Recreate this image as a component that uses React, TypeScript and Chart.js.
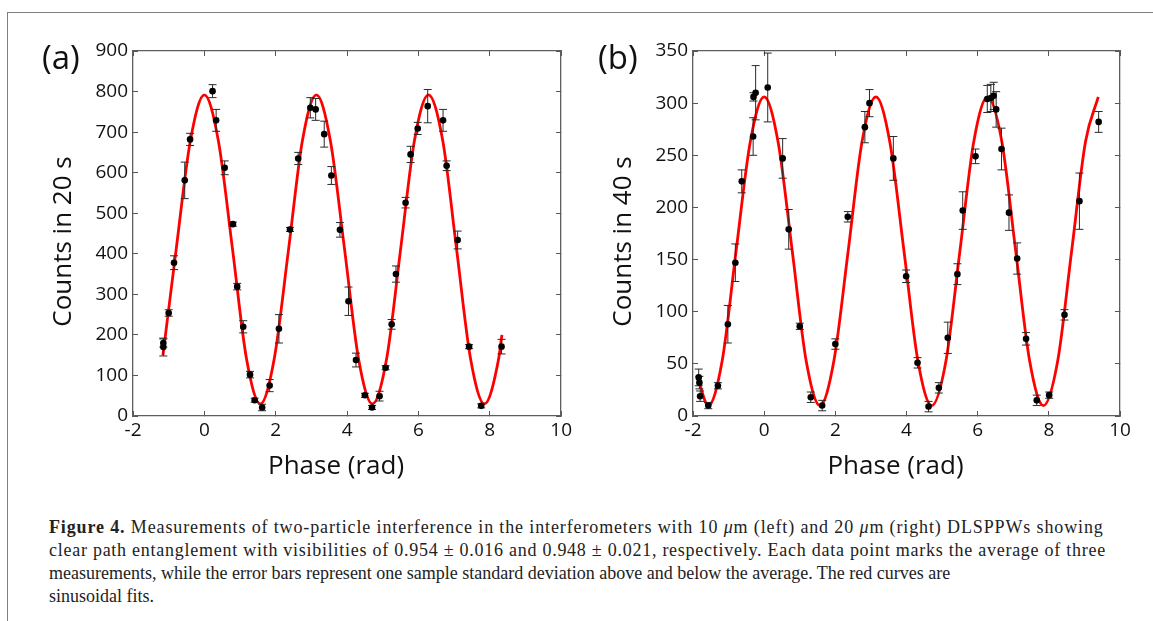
import React, { useEffect, useRef } from 'react';
import { Chart, registerables } from 'chart.js';

Chart.register(...registerables);

// ---------- Panel (a): 10 um DLSPPW, counts in 20 s ----------
const phaseA = [-1.15, -1.15, -1.0, -0.85, -0.55, -0.40, 0.23, 0.33, 0.57, 0.80, 0.92, 1.09, 1.28, 1.41, 1.62, 1.83, 2.09, 2.40, 2.63, 2.97, 3.12, 3.36, 3.56, 3.80, 4.04, 4.25, 4.50, 4.70, 4.91, 5.08, 5.25, 5.37, 5.64, 5.78, 5.98, 6.26, 6.69, 6.79, 7.10, 7.42, 7.76, 8.33];
const countsA = [170, 180, 254, 378, 581, 682, 801, 729, 612, 473, 319, 220, 102, 39, 21, 75, 215, 460, 635, 760, 756, 695, 593, 459, 283, 138, 51, 21, 49, 119, 226, 350, 526, 645, 709, 764, 729, 617, 434, 171, 25, 171];
const errA = [22, 10, 8, 17, 45, 15, 16, 27, 17, 5, 8, 15, 8, 5, 8, 15, 35, 5, 15, 25, 27, 32, 22, 18, 35, 17, 5, 5, 12, 5, 12, 20, 13, 20, 15, 41, 27, 12, 22, 5, 5, 18];
const fitPhaseA = [-1.16, -0.79, -0.39, 0, 0.39, 0.79, 1.18, 1.57, 1.96, 2.36, 2.75, 3.14, 3.53, 3.93, 4.32, 4.71, 5.11, 5.50, 5.89, 6.28, 6.68, 7.07, 7.46, 7.85, 8.25, 8.34];
const fitCountsA = [150, 411, 680, 792, 680, 411, 142, 30, 142, 411, 680, 792, 680, 411, 142, 30, 142, 411, 680, 792, 680, 411, 142, 30, 142, 200];

// ---------- Panel (b): 20 um DLSPPW, counts in 40 s ----------
const phaseB = [-1.84, -1.82, -1.80, -1.57, -1.30, -1.02, -0.81, -0.63, -0.31, -0.30, -0.24, 0.10, 0.52, 0.69, 1.00, 1.31, 1.63, 2.00, 2.35, 2.83, 2.96, 3.63, 3.99, 4.31, 4.62, 4.91, 5.16, 5.43, 5.58, 5.94, 6.27, 6.37, 6.45, 6.52, 6.67, 6.88, 7.11, 7.36, 7.66, 8.01, 8.44, 8.86, 9.40];
const countsB = [37, 32, 19, 10, 29, 88, 147, 225, 268, 306, 310, 315, 247, 179, 86, 18, 10, 69, 191, 277, 300, 247, 134, 51, 9, 27, 75, 136, 197, 249, 304, 305, 307, 294, 256, 195, 151, 74, 15, 20, 97, 206, 282];
const errB = [8, 6, 5, 3, 3, 18, 18, 11, 18, 4, 26, 33, 19, 19, 3, 5, 5, 5, 5, 15, 13, 21, 6, 5, 5, 5, 15, 10, 18, 7, 13, 13, 13, 17, 20, 17, 15, 6, 5, 3, 5, 27, 10];
const fitPhaseB = [-1.84, -1.57, -1.18, -0.79, -0.39, 0, 0.39, 0.79, 1.18, 1.57, 1.96, 2.36, 2.75, 3.14, 3.53, 3.93, 4.32, 4.71, 5.11, 5.50, 5.89, 6.28, 6.68, 7.07, 7.46, 7.85, 8.25, 8.64, 9.03, 9.39];
const fitCountsB = [33, 10, 53, 158, 263, 306, 263, 158, 53, 10, 53, 158, 263, 306, 263, 158, 53, 10, 53, 158, 263, 306, 263, 158, 53, 10, 53, 158, 263, 306];

// ---------- Axes ----------
const xMin = -2;
const xMax = 10;
const xStep = 2;
const yMaxA = 900;
const yStepA = 100;
const yMaxB = 350;
const yStepB = 50;

const panelLabels = ['(a)', '(b)'];
const yTitles = ['Counts in 20 s', 'Counts in 40 s'];
const xTitle = 'Phase (rad)';

const TICK_FONT = { family: "'Open Sans', sans-serif", size: 19 };
const TITLE_FONT = "26px 'Open Sans', sans-serif";
const LABEL_FONT = "33px 'Open Sans', sans-serif";
const FRAME = '#5e5e5e';
const TEXT = '#111';

const errorBarPlugin = {
  id: 'errorBars',
  afterDatasetDraw(chart: any, args: any, opts: any) {
    if (args.index !== 1 || !opts || !opts.xs) return;
    const { ctx, scales } = chart;
    const xs = scales.x;
    const ys = scales.y;
    ctx.save();
    ctx.strokeStyle = '#2a2a2a';
    ctx.lineWidth = 1;
    for (let i = 0; i < opts.xs.length; i++) {
      const px = xs.getPixelForValue(opts.xs[i]);
      const top = ys.getPixelForValue(opts.ys[i] + opts.err[i]);
      const bot = ys.getPixelForValue(opts.ys[i] - opts.err[i]);
      ctx.beginPath();
      ctx.moveTo(px, top);
      ctx.lineTo(px, bot);
      ctx.moveTo(px - 4, top);
      ctx.lineTo(px + 4, top);
      ctx.moveTo(px - 4, bot);
      ctx.lineTo(px + 4, bot);
      ctx.stroke();
    }
    ctx.restore();
  },
};

const textPlugin = {
  id: 'panelText',
  afterDraw(chart: any, _args: any, opts: any) {
    if (!opts || !opts.label) return;
    const { ctx, chartArea } = chart;
    const cx = (chartArea.left + chartArea.right) / 2;
    const cy = (chartArea.top + chartArea.bottom) / 2;
    ctx.save();
    ctx.fillStyle = TEXT;
    ctx.textBaseline = 'middle';
    ctx.textAlign = 'center';
    ctx.font = TITLE_FONT;
    ctx.fillText(opts.xTitle, cx - 11, chartArea.bottom + 51);
    ctx.save();
    ctx.translate(chartArea.left - 69, cy + 8);
    ctx.rotate(-Math.PI / 2);
    ctx.fillText(opts.yTitle, 0, 0);
    ctx.restore();
    ctx.font = LABEL_FONT;
    ctx.textAlign = 'left';
    ctx.fillText(opts.label, chartArea.left - opts.labelDx, chartArea.top + 9);
    ctx.restore();
  },
};

function axisGrid() {
  return {
    display: true,
    drawOnChartArea: false,
    drawTicks: true,
    tickLength: -5,
    color: '#555',
    lineWidth: 1,
  };
}

function makeConfig(
  xsArr: number[], ysArr: number[], errArr: number[],
  fitX: number[], fitY: number[],
  yMax: number, yStep: number,
  label: string, yTitle: string, labelDx: number, rightPad: number,
) {
  const points = xsArr.map((x, i) => ({ x, y: ysArr[i] }));
  const fit = fitX.map((x, i) => ({ x, y: fitY[i] }));
  const border = { display: true, color: FRAME, width: 1.3 };
  return {
    type: 'scatter',
    data: {
      datasets: [
        {
          label: 'data',
          data: points,
          pointRadius: 3.3,
          pointHoverRadius: 3.3,
          pointBackgroundColor: '#000',
          pointBorderWidth: 0,
          showLine: false,
        },
        {
          label: 'fit',
          data: fit,
          showLine: true,
          borderColor: '#ff0000',
          borderWidth: 2.8,
          pointRadius: 0,
          cubicInterpolationMode: 'monotone',
          fill: false,
        },
      ],
    },
    options: {
      responsive: false,
      animation: false,
      events: [],
      layout: { padding: { left: 0, top: 51, right: rightPad, bottom: 0 } },
      plugins: {
        legend: { display: false },
        tooltip: { enabled: false },
        errorBars: { xs: xsArr, ys: ysArr, err: errArr },
        panelText: { label, yTitle, xTitle, labelDx },
      },
      scales: {
        x: {
          type: 'linear', position: 'bottom', min: xMin, max: xMax,
          ticks: { stepSize: xStep, font: TICK_FONT, color: TEXT, padding: 8, maxRotation: 0 },
          grid: axisGrid(), border,
          afterFit: (s: any) => { s.height = 84; },
        },
        x2: {
          type: 'linear', position: 'top', min: xMin, max: xMax,
          ticks: { stepSize: xStep, display: false },
          grid: axisGrid(), border,
          afterFit: (s: any) => { s.height = 0; },
        },
        y: {
          type: 'linear', position: 'left', min: 0, max: yMax,
          ticks: { stepSize: yStep, font: TICK_FONT, color: TEXT, padding: 10 },
          grid: axisGrid(), border,
          afterFit: (s: any) => { s.width = 133; },
        },
        y2: {
          type: 'linear', position: 'right', min: 0, max: yMax,
          ticks: { stepSize: yStep, display: false },
          grid: axisGrid(), border,
          afterFit: (s: any) => { s.width = 0; },
        },
      },
    },
    plugins: [errorBarPlugin, textPlugin],
  };
}

function Panel(props: { cfg: () => any; left: number; width: number }) {
  const ref = useRef<HTMLCanvasElement | null>(null);
  useEffect(() => {
    if (!ref.current) return;
    const chart = new Chart(ref.current, props.cfg());
    return () => chart.destroy();
  }, []);
  return (
    <canvas
      ref={ref}
      width={props.width}
      height={500}
      style={{ position: 'absolute', left: props.left, top: 0, width: props.width, height: 500 }}
    />
  );
}

const captionStyle: React.CSSProperties = {
  position: 'absolute',
  left: 49,
  top: 516,
  fontFamily: "'Liberation Serif', 'Times New Roman', serif",
  fontSize: 18,
  lineHeight: '23px',
  color: '#222',
  whiteSpace: 'nowrap',
};

export default function App() {
  return (
    <div style={{ position: 'fixed', left: 0, top: 0, width: 1153, height: 621, background: '#fff', overflow: 'hidden' }}>
      <div style={{ position: 'absolute', left: 7, top: 12, width: 1200, height: 700, borderLeft: '1.5px solid #808080', borderTop: '1.5px solid #808080' }} />
      <Panel
        left={0}
        width={580}
        cfg={() => makeConfig(phaseA, countsA, errA, fitPhaseA, fitCountsA, yMaxA, yStepA, panelLabels[0], yTitles[0], 91, 18)}
      />
      <Panel
        left={560}
        width={593}
        cfg={() => makeConfig(phaseB, countsB, errB, fitPhaseB, fitCountsB, yMaxB, yStepB, panelLabels[1], yTitles[1], 95, 33)}
      />
      <div style={captionStyle}>
        <div style={{ letterSpacing: '0.87px' }}><b>Figure 4.</b> Measurements of two-particle interference in the interferometers with 10 <i>μ</i>m (left) and 20 <i>μ</i>m (right) DLSPPWs showing</div>
        <div style={{ letterSpacing: '0.74px' }}>clear path entanglement with visibilities of 0.954 ± 0.016 and 0.948 ± 0.021, respectively. Each data point marks the average of three</div>
        <div>measurements, while the error bars represent one sample standard deviation above and below the average. The red curves are</div>
        <div>sinusoidal fits.</div>
      </div>
    </div>
  );
}
